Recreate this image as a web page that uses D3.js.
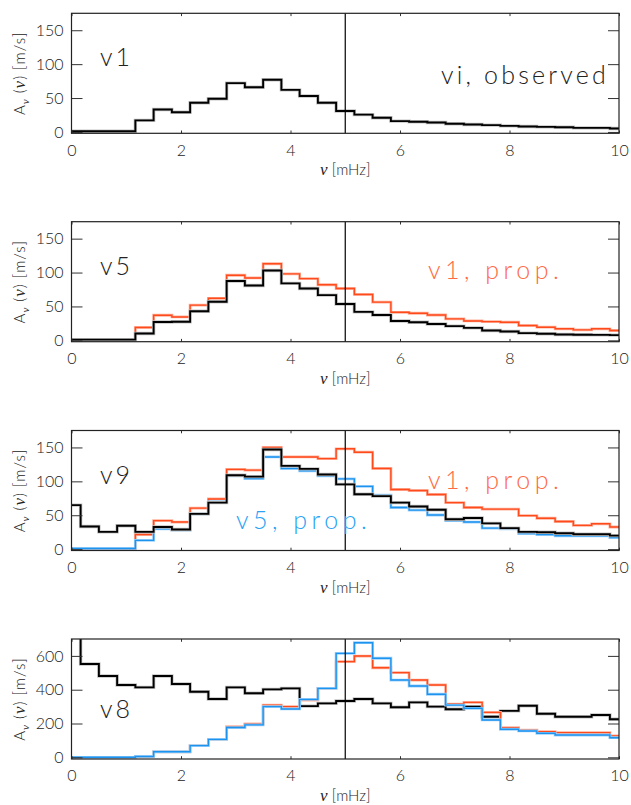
<!DOCTYPE html>
<html>
<head>
    <script src="https://d3js.org/d3.v7.min.js"></script>
</head>
<body style="margin:0;background:#fff">
    <script>
        const [width, height] = [631, 805]

        // bin centres (mHz), bins are 1/3 mHz wide
        const freq = [0, 0.333, 0.667, 1, 1.333, 1.667, 2, 2.333, 2.667, 3, 3.333, 3.667, 4, 4.333, 4.667,
            5, 5.333, 5.667, 6, 6.333, 6.667, 7, 7.333, 7.667, 8, 8.333, 8.667, 9, 9.333, 9.667, 10];
        const xTicks = [0, 2, 4, 6, 8, 10];

        // panel 1: vi observed at v1
        const v1_obs = [1, 1, 1, 1, 17, 33, 29, 43, 49, 72, 66, 77, 62, 53, 43, 31, 25.5, 21, 16, 15, 14, 12, 11, 10, 9, 8, 7.5, 7, 6, 6, 5];
        // panel 2
        const v5_obs = [1, 1, 1, 1, 10, 27, 27.5, 43, 57, 87.5, 81, 103, 84, 76.5, 66.7, 53.5, 42, 37.4, 28.6, 26.7, 24, 21, 18.4, 14.5, 13, 10.7, 9.7, 8.7, 8.2, 8, 7.7];
        const v5_from_v1 = [1.5, 1.5, 1.5, 1.5, 19, 37, 34.5, 52, 62, 96, 92, 113, 98, 91, 82, 76.5, 67.7, 56.4, 41.4, 40, 37.4, 31.6, 28.6, 27.6, 26.7, 21.8, 19.4, 17, 15.5, 17, 14.5];
        // panel 3
        const v9_obs = [65, 33.5, 25.5, 34.6, 25.5, 32.6, 29, 52, 68.6, 109, 107, 147, 122.8, 118.4, 110, 95.5, 81, 78.2, 68.6, 62.8, 58, 44, 46, 38, 31, 25.5, 25, 23.5, 22, 22, 20];
        const v9_from_v1 = [1, 1, 1, 1, 21.6, 42, 40, 60.5, 74, 117.6, 116.6, 150, 136, 136, 133.5, 148, 143, 119, 88, 86.4, 80.6, 68.6, 61.4, 59, 59, 49.4, 45.6, 40.8, 35, 37.4, 32.7];
        const v9_from_v5 = [1, 1, 1, 1, 13, 30, 28, 52, 70, 108, 104, 136, 119, 115.6, 108, 103.7, 92.6, 79.6, 61.4, 57.6, 50.4, 42, 40, 31, 30, 23, 21.6, 19.7, 19.7, 19.7, 17];
        // panel 4
        const v8_obs = [720, 552, 481, 428, 414, 481, 434, 388, 345, 414, 379, 402, 408, 303, 319, 333, 345, 319, 296, 325, 300, 284, 300, 240, 275, 305, 258, 240, 240, 250, 225];
        const v8_from_v1 = [0, 0, 0, 0, 5, 33, 33, 69, 106, 181, 197, 309, 300, 339, 408, 566, 599, 530, 501, 457, 428, 315, 325, 266, 175, 161, 152, 146, 146, 146, 126];
        const v8_from_v5 = [0, 0, 0, 0, 5, 33, 33, 69, 106, 176, 192, 300, 286, 343, 408, 615, 678, 586, 457, 422, 373, 309, 290, 221, 166, 156, 142, 132, 132, 132, 116];

        const black = "#000", red = "#ff4a1c", blue = "#1c93ee";
        const font = "Lato, 'DejaVu Sans', sans-serif";
        const nuFont = "'Liberation Serif', serif";

        const panels = [
            {top: 13.3, ydom: [-2, 175], yt: [0, 50, 100, 150], ym: 10, name: "v1",
             series: [{v: v1_obs, c: black}],
             notes: [{t: "vi, observed", x: 609, y: 84, c: "#222", a: "end"}]},
            {top: 221.7, ydom: [-2, 175], yt: [0, 50, 100, 150], ym: 10, name: "v5",
             series: [{v: v5_from_v1, c: red}, {v: v5_obs, c: black}],
             notes: [{t: "v1, prop.", x: 428, y: 279, c: "#ff6a45", a: "start"}]},
            {top: 430.5, ydom: [-2, 175], yt: [0, 50, 100, 150], ym: 10, name: "v9",
             series: [{v: v9_from_v1, c: red}, {v: v9_from_v5, c: blue}, {v: v9_obs, c: black}],
             notes: [{t: "v1, prop.", x: 428, y: 489, c: "#ff6a45", a: "start"},
                     {t: "v5, prop.", x: 236, y: 529, c: "#2aa2f5", a: "start"}]},
            {top: 639, ydom: [-10, 700], yt: [0, 200, 400, 600], ym: 40, name: "v8",
             series: [{v: v8_obs, c: black}, {v: v8_from_v1, c: red}, {v: v8_from_v5, c: blue}],
             notes: []}
        ];

        const left = 71.5, right = 619, ph = 120;

        const svg = d3.select("body")
            .append("svg")
            .attr("width", width)
            .attr("height", height)
            .style("font-family", font);

        const x = d3.scaleLinear().domain([0, 10]).range([left, right]);

        panels.forEach((p, i) => {
            const y = d3.scaleLinear().domain(p.ydom).range([p.top + ph, p.top]);
            const g = svg.append("g");

            g.append("clipPath").attr("id", "clip" + i)
                .append("rect").attr("x", left).attr("y", p.top).attr("width", right - left).attr("height", ph);

            const line = d3.line()
                .x((d, j) => x(freq[j]))
                .y(d => y(d))
                .curve(d3.curveStep);

            const lines = g.append("g").attr("clip-path", `url(#clip${i})`);
            p.series.forEach(s => {
                const halo = s.c == black ? "#c4c4c4" : (s.c == red ? "#ffb29c" : "#9fd2fa");
                lines.append("path").datum(s.v)
                    .attr("d", line).attr("fill", "none")
                    .style("stroke", halo).style("stroke-width", s.c == black ? 3.4 : 2.8);
                lines.append("path").datum(s.v)
                    .attr("d", line).attr("fill", "none")
                    .style("stroke", s.c).style("stroke-width", s.c == black ? 1.9 : 1.4);
            });

            // vertical marker at 5 mHz
            g.append("line")
                .attr("x1", x(5)).attr("x2", x(5))
                .attr("y1", p.top).attr("y2", p.top + ph)
                .style("stroke", "#000").style("stroke-width", 1.2);

            // axes, ticks pointing inward
            const minorX = d3.range(0, 10.01, 0.5);
            const minorY = d3.range(p.ydom[0] < 0 ? 0 : p.ydom[0], p.ydom[1] + 0.01, p.ym);

            const bx = g.append("g").attr("transform", `translate(0,${p.top + ph})`);
            bx.call(d3.axisBottom(x).tickValues(minorX).tickSize(-1.4).tickSizeOuter(0).tickFormat(""));
            bx.call(d3.axisBottom(x).tickValues(xTicks).tickSize(-2.8).tickSizeOuter(0).tickPadding(11));
            const tx = g.append("g").attr("transform", `translate(0,${p.top})`);
            tx.call(d3.axisTop(x).tickValues(minorX).tickSize(-1.4).tickSizeOuter(0).tickFormat(""));
            tx.call(d3.axisTop(x).tickValues(xTicks).tickSize(-2.8).tickSizeOuter(0).tickFormat(""));

            const ly = g.append("g").attr("transform", `translate(${left},0)`);
            ly.call(d3.axisLeft(y).tickValues(minorY).tickSize(-5.5).tickSizeOuter(0).tickFormat(""));
            ly.call(d3.axisLeft(y).tickValues(p.yt).tickSize(-11).tickSizeOuter(0).tickPadding(8).tickFormat(d3.format("d")));
            const ry = g.append("g").attr("transform", `translate(${right},0)`);
            ry.call(d3.axisRight(y).tickValues(minorY).tickSize(-5.5).tickSizeOuter(0).tickFormat(""));
            ry.call(d3.axisRight(y).tickValues(p.yt).tickSize(-11).tickSizeOuter(0).tickFormat(""));

            g.selectAll(".domain").remove();
            g.selectAll(".tick line").style("stroke", "#333");
            g.selectAll(".tick text")
                .style("font-family", font).style("font-weight", 300)
                .style("font-size", "16px").style("fill", "#222");

            g.append("rect")
                .attr("x", left).attr("y", p.top).attr("width", right - left).attr("height", ph)
                .attr("fill", "none").style("stroke", "#222").style("stroke-width", 1.2);

            // x title
            const xt = g.append("text")
                .attr("x", x(5)).attr("y", p.top + ph + 42)
                .attr("text-anchor", "middle")
                .style("font-weight", 300).style("font-size", "15px").style("fill", "#222");
            xt.append("tspan").style("font-family", nuFont).style("font-style", "italic").style("font-size", "17px").text("ν");
            xt.append("tspan").text("  [mHz]");

            // y title
            const yt = g.append("text")
                .attr("transform", `translate(25,${p.top + ph / 2}) rotate(-90)`)
                .attr("text-anchor", "middle")
                .style("font-weight", 300).style("font-size", "15px").style("fill", "#222")
                .style("letter-spacing", "1px");
            yt.append("tspan").text("A");
            yt.append("tspan").attr("dy", 4).style("font-size", "11px")
                .style("font-family", nuFont).style("font-style", "italic").text("ν");
            yt.append("tspan").attr("dy", -4).text("  (");
            yt.append("tspan").style("font-family", nuFont).style("font-style", "italic").style("font-size", "17px").text("ν");
            yt.append("tspan").text(")  [m/s]");

            // panel name
            g.append("text")
                .attr("x", 100).attr("y", p.top + (i == 3 ? 79 : 53))
                .style("font-weight", 300).style("font-size", "25px").style("fill", "#222")
                .style("letter-spacing", "3px")
                .text(p.name);

            p.notes.forEach(n => {
                g.append("text")
                    .attr("x", n.x).attr("y", n.y)
                    .attr("text-anchor", n.a)
                    .style("font-weight", 300).style("font-size", "25px").style("fill", n.c)
                    .style("letter-spacing", n.a == "end" ? "3.2px" : "4.5px")
                    .text(n.t);
            });
        });
    </script>
</body>
</html>
